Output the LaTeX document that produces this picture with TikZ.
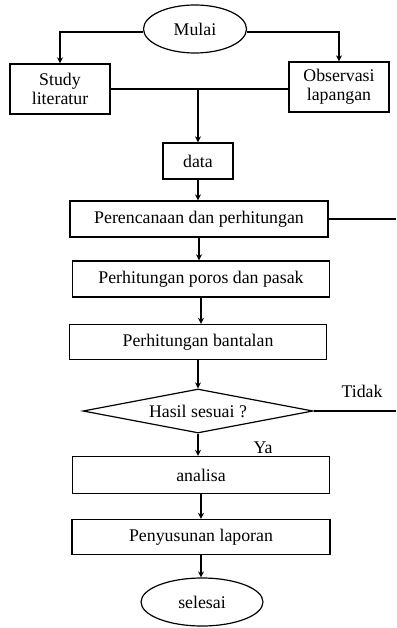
\documentclass[tikz,border=0pt]{standalone}
\usepackage{fontspec}
\setmainfont{Liberation Serif}
\usetikzlibrary{shapes.geometric, arrows.meta}

\begin{document}
\begin{tikzpicture}[x=1pt, y=-1pt,
		every node/.style={font=\fontsize{17.8}{19}\selectfont},
		box/.style={draw, line width=1.4pt, inner sep=0pt, minimum height=36pt, align=center},
		terminal/.style={draw, ellipse, line width=1.2pt, inner sep=0pt, minimum height=48pt},
		decision/.style={draw, diamond, aspect=5, line width=1.2pt, inner sep=0pt, minimum width=230pt, minimum height=44pt},
		line/.style={line width=1.2pt},
		arr/.style={line width=1.2pt, -{Stealth[length=6pt, width=6pt]}}
		]
		\useasboundingbox (0,0) rectangle (396,628);
		\node [terminal, minimum width=103pt] (mulai) at (195,29) {Mulai};
		\node [box, minimum width=100pt, minimum height=50pt] (study) at (60,89) {Study\\literatur};
		\node [box, minimum width=100pt, minimum height=50pt] (observasi) at (339,87) {Observasi\\lapangan};
		\node [box, minimum width=70pt] (data) at (198,161) {data};
		\node [box, minimum width=258pt] (rencana) at (199,219) {Perencanaan dan perhitungan};
		\node [box, minimum width=257pt] (poros) at (201,279) {Perhitungan poros dan pasak};
		\node [box, minimum width=257pt, minimum height=35pt] (bantalan) at (198,342) {Perhitungan bantalan};
		\node [decision] (hasil) at (198,411) {Hasil sesuai ?};
		\node [box, minimum width=257pt, minimum height=37pt] (analisa) at (201,475) {analisa};
		\node [box, minimum width=258pt, minimum height=35pt] (laporan) at (201,537) {Penyusunan laporan};
		\node [terminal, minimum width=122pt] (selesai) at (202,602) {selesai};
		\node (tidak) at (362,391) {Tidak};
		\node (ya) at (263,448) {Ya};
		\coordinate (gabung) at (data.north |- study.east);
		\coordinate (kanan1) at (396,219);
		\coordinate (kanan2) at (396,411);
		\draw [arr] ([yshift=-3pt]mulai.west) -| (study.north);
		\draw [arr] ([yshift=-3pt]mulai.east) -| (observasi.north);
		\draw [line] (study.east) -- (study.east -| observasi.west);
		\draw [arr] (gabung) -- (data.north);
		\draw [arr] (data.south) -- (data.south |- rencana.north);
		\draw [arr] (rencana.south) -- (rencana.south |- poros.north);
		\draw [arr] (poros.south) -- (poros.south |- bantalan.north);
		\draw [arr] (bantalan.south) -- (hasil.north);
		\draw [arr] (hasil.south) -- (hasil.south |- analisa.north);
		\draw [arr] (analisa.south) -- (analisa.south |- laporan.north);
		\draw [arr] (laporan.south) -- (laporan.south |- selesai.north);
		\draw [line] (rencana.east) -- (kanan1);
		\draw [line] (hasil.east) -- (kanan2);
	\end{tikzpicture}
\end{document}
